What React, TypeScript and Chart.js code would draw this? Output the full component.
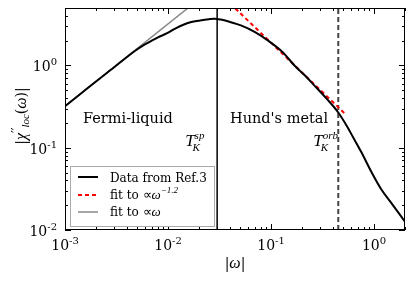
import React, { useEffect, useRef } from "react";
import { Chart, registerables } from "chart.js";
Chart.register(...registerables);

// |omega| grid and |chi''_loc(omega)|
const omega = [0.001, 0.0015, 0.002, 0.003, 0.004, 0.0048, 0.0056, 0.0067, 0.008, 0.0097, 0.012, 0.0141, 0.0165, 0.0205, 0.025, 0.0284, 0.0325, 0.04, 0.051, 0.07, 0.093, 0.13, 0.169, 0.21, 0.264, 0.35, 0.448, 0.55, 0.627, 0.755, 0.95, 1.18, 1.5, 2.03];
const chi = [0.32, 0.48, 0.64, 0.95, 1.27, 1.51, 1.72, 1.95, 2.2, 2.45, 2.85, 3.13, 3.35, 3.53, 3.66, 3.71, 3.62, 3.38, 3.07, 2.55, 2.02, 1.45, 1.0, 0.77, 0.57, 0.39, 0.27, 0.18, 0.134, 0.088, 0.05, 0.031, 0.0206, 0.0123];
// power-law fit  ∝ ω^-1.2
const fitPowX = [0.045, 0.52];
const fitPowY = [4.94, 0.261];
// Fermi-liquid fit ∝ ω
const fitLinX = [0.001, 0.0165];
const fitLinY = [0.32, 5.28];
// characteristic scales
const tSp = 0.03;
const tOrb = 0.45;
// axes
const xMin = 0.001, xMax = 2.0, yMin = 0.01, yMax = 5.0;
const xTickVals = [0.001, 0.01, 0.1, 1];
const xTickExps = ["-3", "-2", "-1", "0"];
const yTickVals = [0.01, 0.1, 1];
const yTickExps = ["-2", "-1", "0"];
const legendLabels = ["Data from Ref.3", "fit to ", "fit to "];

const SERIF = "'DejaVu Serif', serif";
const MATH = "'Liberation Serif', serif";

type Run = { t: string; f: string; dy?: number };

function runsWidth(ctx: CanvasRenderingContext2D, runs: Run[]) {
  let w = 0;
  for (const r of runs) { ctx.font = r.f; w += ctx.measureText(r.t).width; }
  return w;
}
function drawRuns(ctx: CanvasRenderingContext2D, runs: Run[], x: number, y: number) {
  let cx = x;
  for (const r of runs) {
    ctx.font = r.f;
    ctx.fillText(r.t, cx, y + (r.dy || 0));
    cx += ctx.measureText(r.t).width;
  }
  return cx - x;
}
function powRuns(exp: string): Run[] {
  return [
    { t: "10", f: `14px ${SERIF}` },
    { t: exp, f: `10px ${SERIF}`, dy: -6 },
  ];
}

const overlay = {
  id: "overlay",
  afterDraw(chart: any) {
    const { ctx, chartArea: a, scales } = chart;
    const xs = scales.x, ys = scales.y;
    ctx.save();
    ctx.fillStyle = "#000";
    ctx.strokeStyle = "#000";
    ctx.textBaseline = "alphabetic";
    ctx.textAlign = "left";

    // frame
    ctx.lineWidth = 1;
    ctx.strokeRect(Math.round(a.left) + 0.5, Math.round(a.top) + 0.5, Math.round(a.right - a.left) - 1, Math.round(a.bottom - a.top) - 1);

    // ticks (inward, all sides)
    const tick = (x1: number, y1: number, x2: number, y2: number) => {
      ctx.beginPath(); ctx.moveTo(x1, y1); ctx.lineTo(x2, y2); ctx.stroke();
    };
    ctx.lineWidth = 1;
    for (let d = 0.001; d < xMax * 1.01; d *= 10) {
      for (let m = 1; m <= 9; m++) {
        const v = d * m;
        if (v < xMin * 0.999 || v > xMax * 1.001) continue;
        const px = Math.round(xs.getPixelForValue(v)) + 0.5;
        const len = m === 1 ? 6 : 3;
        tick(px, a.bottom, px, a.bottom - len);
        tick(px, a.top, px, a.top + len);
      }
    }
    for (let d = 0.01; d < yMax * 1.01; d *= 10) {
      for (let m = 1; m <= 9; m++) {
        const v = d * m;
        if (v < yMin * 0.999 || v > yMax * 1.001) continue;
        const py = Math.round(ys.getPixelForValue(v)) + 0.5;
        const len = m === 1 ? 6 : 3;
        tick(a.left, py, a.left + len, py);
        tick(a.right, py, a.right - len, py);
      }
    }

    // tick labels
    xTickVals.forEach((v, i) => {
      const runs = powRuns(xTickExps[i]);
      const w = runsWidth(ctx, runs);
      drawRuns(ctx, runs, xs.getPixelForValue(v) - w / 2, a.bottom + 20);
    });
    yTickVals.forEach((v, i) => {
      const runs = powRuns(yTickExps[i]);
      const w = runsWidth(ctx, runs);
      drawRuns(ctx, runs, a.left - 8 - w, ys.getPixelForValue(v) + 6);
    });

    // axis titles
    const xt: Run[] = [
      { t: "|", f: `14px ${SERIF}` },
      { t: "ω", f: `italic 16px ${MATH}` },
      { t: "|", f: `14px ${SERIF}` },
    ];
    const xtw = runsWidth(ctx, xt);
    drawRuns(ctx, xt, (a.left + a.right) / 2 - xtw / 2, 268);

    const yt: Run[] = [
      { t: "|", f: `14px ${SERIF}` },
      { t: "χ", f: `italic 16px ${MATH}` },
      { t: "′′", f: `12px ${SERIF}`, dy: -5 },
      { t: "loc", f: `italic 11px ${MATH}`, dy: 3 },
      { t: "(", f: `14px ${SERIF}` },
      { t: "ω", f: `italic 16px ${MATH}` },
      { t: ")", f: `14px ${SERIF}` },
      { t: "|", f: `14px ${SERIF}` },
    ];
    const ytw = runsWidth(ctx, yt);
    ctx.save();
    ctx.translate(26, (a.top + a.bottom) / 2 - 3);
    ctx.rotate(-Math.PI / 2);
    drawRuns(ctx, yt, -ytw / 2, 0);
    ctx.restore();

    // region labels
    ctx.font = `14.5px ${SERIF}`;
    ctx.fillText("Fermi-liquid", 83, 123);
    ctx.fillText("Hund's metal", 230, 123);

    const tk = (x: number, sup: string) => {
      ctx.font = `italic 17px ${MATH}`;
      ctx.fillText("T", x, 146);
      const tw = ctx.measureText("T").width;
      ctx.font = `italic 11px ${MATH}`;
      ctx.fillText(sup, x + tw, 139);
      ctx.fillText("K", x + tw - 2, 151);
    };
    tk(xs.getPixelForValue(tSp) - 32, "sp");
    tk(xs.getPixelForValue(tOrb) - 25, "orb");

    // legend
    const lx = 70, ly = 166, lw = 144, lh = 60;
    ctx.fillStyle = "#fff";
    ctx.fillRect(lx, ly, lw, lh);
    ctx.strokeStyle = "#aaa";
    ctx.lineWidth = 1;
    ctx.strokeRect(lx + 0.5, ly + 0.5, lw, lh);
    const rows = [177, 195, 212];
    const styles = [
      { c: "#000", w: 2, d: [] as number[] },
      { c: "#ff0000", w: 2, d: [4, 3] },
      { c: "#888", w: 1.5, d: [] as number[] },
    ];
    rows.forEach((ry, i) => {
      const s = styles[i];
      ctx.strokeStyle = s.c; ctx.lineWidth = s.w; ctx.setLineDash(s.d);
      ctx.beginPath(); ctx.moveTo(78, ry); ctx.lineTo(98, ry); ctx.stroke();
      ctx.setLineDash([]);
    });
    ctx.fillStyle = "#000";
    ctx.textBaseline = "alphabetic";
    drawRuns(ctx, [{ t: legendLabels[0], f: `12px ${SERIF}` }], 110, rows[0] + 5);
    drawRuns(ctx, [
      { t: legendLabels[1], f: `12px ${SERIF}` },
      { t: "∝", f: `13px ${MATH}` },
      { t: "ω", f: `italic 13px ${MATH}` },
      { t: "−1.2", f: `italic 9px ${MATH}`, dy: -6 },
    ], 110, rows[1] + 4);
    drawRuns(ctx, [
      { t: legendLabels[2], f: `12px ${SERIF}` },
      { t: "∝", f: `13px ${MATH}` },
      { t: "ω", f: `italic 13px ${MATH}` },
    ], 110, rows[2] + 4);

    ctx.restore();
  },
};

export default function App() {
  const ref = useRef<HTMLCanvasElement>(null);
  useEffect(() => {
    if (!ref.current) return;
    const pts = (xs: number[], ys: number[]) => xs.map((x, i) => ({ x, y: ys[i] }));
    const chart = new Chart(ref.current, {
      type: "line",
      data: {
        datasets: [
          { label: "Data from Ref.3", data: pts(omega, chi), borderColor: "#000", borderWidth: 2, pointRadius: 0, order: 0, cubicInterpolationMode: "monotone" },
          { label: "fit to ∝ω^-1.2", data: pts(fitPowX, fitPowY), borderColor: "#ff0000", borderWidth: 2, borderDash: [4, 3], pointRadius: 0, order: 1 },
          { label: "fit to ∝ω", data: pts(fitLinX, fitLinY), borderColor: "#888", borderWidth: 1.5, pointRadius: 0, order: 2 },
          { label: "sp", data: [{ x: tSp, y: yMin }, { x: tSp, y: yMax }], borderColor: "#000", borderWidth: 1.5, pointRadius: 0, order: 3 },
          { label: "orb", data: [{ x: tOrb, y: yMin }, { x: tOrb, y: yMax }], borderColor: "#444", borderWidth: 2, borderDash: [5, 3], pointRadius: 0, order: 4 },
        ],
      },
      options: {
        responsive: false,
        animation: false,
        devicePixelRatio: 1,
        layout: { padding: { left: 65, right: 9, top: 8, bottom: 55 } },
        plugins: { legend: { display: false }, tooltip: { enabled: false } },
        scales: {
          x: { type: "logarithmic", min: xMin, max: xMax, display: false },
          y: { type: "logarithmic", min: yMin, max: yMax, display: false },
        },
      },
      plugins: [overlay],
    });
    return () => chart.destroy();
  }, []);
  return (
    <div style={{ position: "absolute", left: 0, top: 0, width: 414, height: 285, background: "#fff" }}>
      <canvas ref={ref} width={414} height={285} style={{ width: 414, height: 285 }} />
    </div>
  );
}
